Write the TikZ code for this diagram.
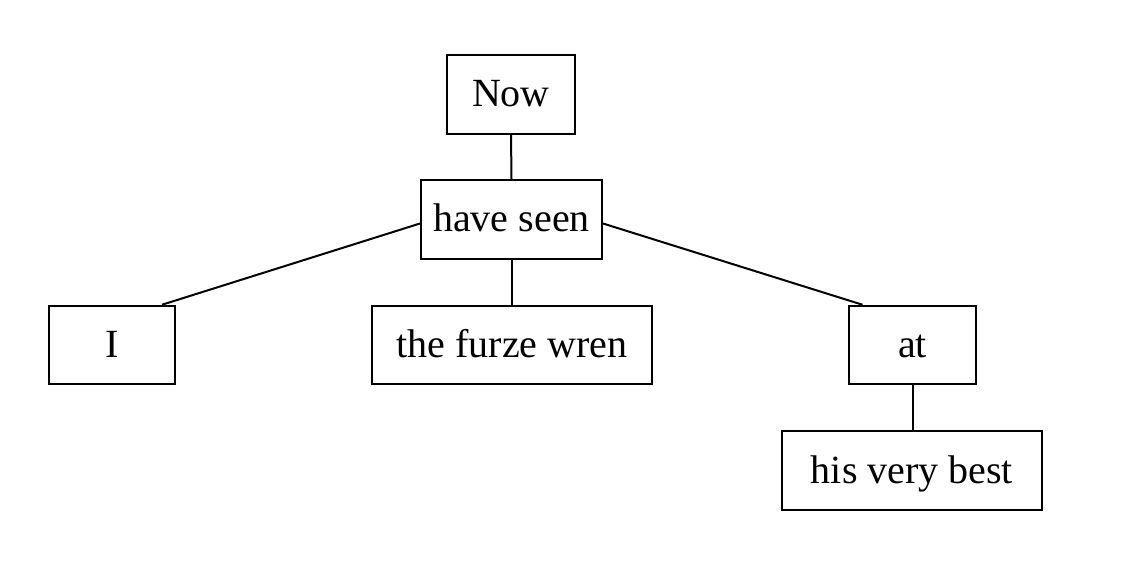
\documentclass[tikz,border=0pt]{standalone}
\usepackage{fontspec}
\setmainfont{Liberation Serif}
\begin{document}
\begin{tikzpicture}[x=0.5pt,y=-0.5pt,
  box/.style={draw,line width=1pt,inner sep=0pt,minimum height=39.25pt,text height=15.5pt,text depth=3pt,font=\fontsize{20}{24}\selectfont},
  edge/.style={line width=1pt}]
\useasboundingbox (0,0) rectangle (1130,572);
\node[box,minimum width=64pt] (now) at (511,94.5) {Now};
\node[box,minimum width=90.5pt] (hs) at (511.5,219.5) {have seen};
\node[box,minimum width=63pt] (i) at (112,345) {I};
\node[box,minimum width=140pt] (fw) at (512,345) {the furze wren};
\node[box,minimum width=63.5pt] (at) at (912.5,345) {at};
\node[box,minimum width=130pt] (hvb) at (912,470.5) {his very best};
\draw[edge] (now.south) -- (hs.north);
\draw[edge] ([yshift=-2pt]hs.west) -- ([xshift=25pt]i.north);
\draw[edge] (hs.south) -- (hs.south |- fw.north);
\draw[edge] ([yshift=-2pt]hs.east) -- ([xshift=-25pt]at.north);
\draw[edge] (at.south) -- (at.south |- hvb.north);
\end{tikzpicture}
\end{document}
